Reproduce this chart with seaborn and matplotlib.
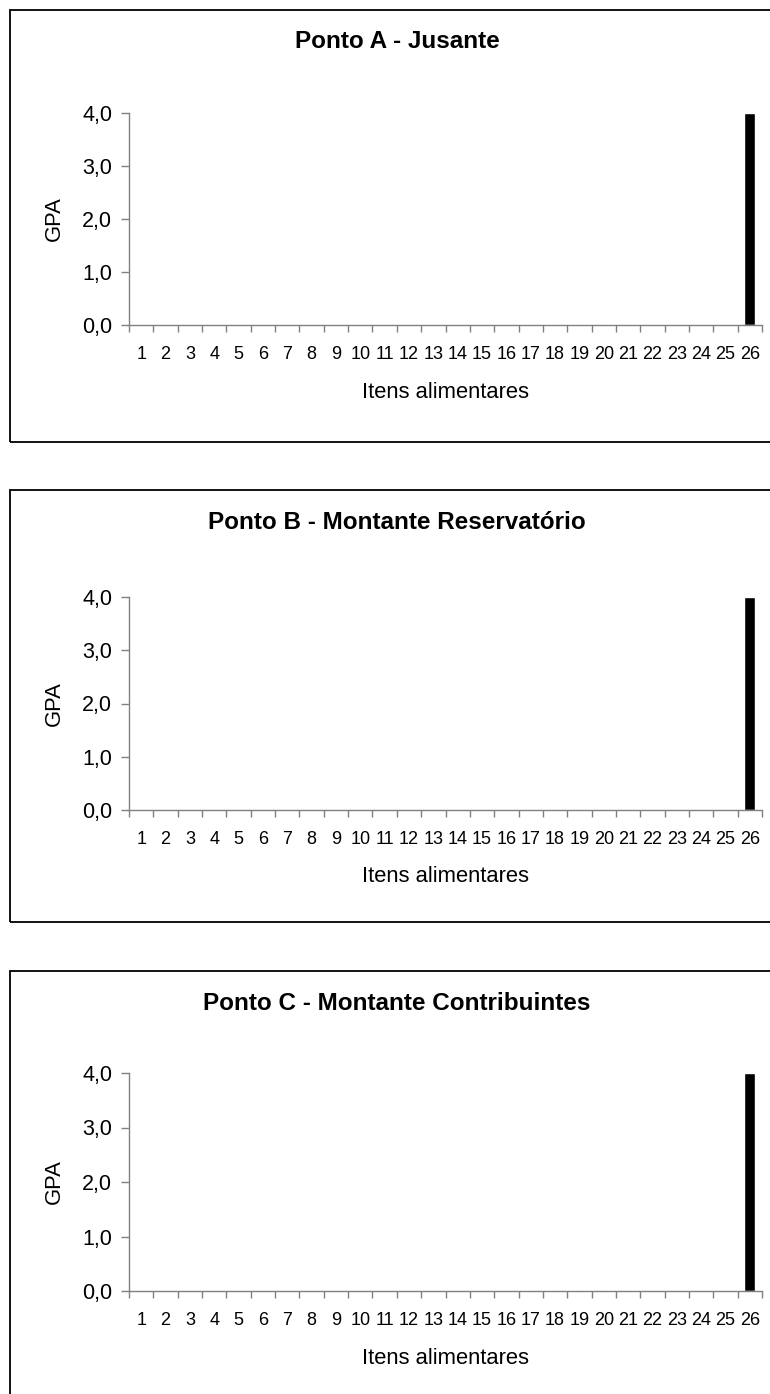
import matplotlib
matplotlib.use("Agg")
import seaborn as sns
import pandas as pd
from matplotlib import pyplot as plt
from matplotlib.patches import Rectangle
import numpy as np


# Itens alimentares (eixo x) e GPA de cada ponto
itens = ["1", "2", "3", "4", "5", "6", "7", "8", "9", "10", "11", "12", "13",
         "14", "15", "16", "17", "18", "19", "20", "21", "22", "23", "24", "25", "26"]
gpa_a = [0, 0, 0, 0, 0, 0, 0, 0, 0, 0, 0, 0, 0, 0, 0, 0, 0, 0, 0, 0, 0, 0, 0, 0, 0, 4.0]
gpa_b = [0, 0, 0, 0, 0, 0, 0, 0, 0, 0, 0, 0, 0, 0, 0, 0, 0, 0, 0, 0, 0, 0, 0, 0, 0, 4.0]
gpa_c = [0, 0, 0, 0, 0, 0, 0, 0, 0, 0, 0, 0, 0, 0, 0, 0, 0, 0, 0, 0, 0, 0, 0, 0, 0, 4.0]
titulos = ["Ponto A - Jusante", "Ponto B - Montante Reservatório", "Ponto C - Montante Contribuintes"]
y_ticks = [0, 1, 2, 3, 4]
y_labels = ["0,0", "1,0", "2,0", "3,0", "4,0"]

sns.set_theme(style="ticks")
plt.rcParams['font.family'] = ['Liberation Sans', 'DejaVu Sans']
plt.rcParams['text.color'] = 'black'
plt.rcParams['axes.labelcolor'] = 'black'
plt.rcParams['xtick.labelcolor'] = 'black'
plt.rcParams['ytick.labelcolor'] = 'black'

W, H = 770, 1394
fig = plt.figure(figsize=(W / 100, H / 100), dpi=100)
fig.patch.set_facecolor("white")

# panel layout in pixels: box top, axes top (4,0), axes bottom (0,0)
paineis = [(10, 113, 325), (490, 597, 810), (971, 1073, 1291)]
ax_left, ax_right = 129, 762
grey = "#808080"

for (box_top, top, bottom), titulo, gpa in zip(paineis, titulos, [gpa_a, gpa_b, gpa_c]):
    # outer frame of each chart
    fig.add_artist(Rectangle((10 / W, 1 - (box_top + 432) / H), 800 / W, 432 / H,
                             transform=fig.transFigure, fill=False, ec="black", lw=1.3))

    ax = fig.add_axes([ax_left / W, 1 - bottom / H, (ax_right - ax_left) / W, (bottom - top) / H])
    df = pd.DataFrame({"item": itens, "gpa": gpa})
    sns.barplot(data=df, x="item", y="gpa", order=itens, color="black",
                saturation=1, width=0.45, ax=ax)

    ax.set_xlim(-0.5, len(itens) - 0.5)
    ax.set_ylim(0, 4)
    ax.set_yticks(y_ticks)
    ax.set_yticklabels(y_labels, fontsize=15.5)
    ax.set_xticks(range(len(itens)))
    ax.set_xticklabels(itens, fontsize=13)
    ax.set_xticks(np.arange(-0.5, len(itens)), minor=True)
    ax.tick_params(axis="x", which="major", length=0, pad=15)
    ax.tick_params(axis="x", which="minor", length=5, width=1, color=grey)
    ax.tick_params(axis="y", length=6, width=1, color=grey, pad=6)

    sns.despine(ax=ax)
    for s in ["left", "bottom"]:
        ax.spines[s].set_color(grey)
        ax.spines[s].set_linewidth(1)
    ax.set_facecolor("none")

    ax.set_xlabel("Itens alimentares", fontsize=15.8)
    ax.xaxis.label.set_va("center")
    ax.xaxis.set_label_coords(0.5, -67 / (bottom - top))
    ax.set_ylabel("GPA", fontsize=15.8)
    ax.yaxis.label.set_va("center")
    ax.yaxis.set_label_coords((54 - ax_left) / (ax_right - ax_left), 0.5)

    fig.text(397 / W, 1 - (box_top + 32) / H, titulo, ha="center", va="center",
             fontsize=17.5, fontweight="bold")

fig.savefig("out.png", dpi=100, facecolor="white")
